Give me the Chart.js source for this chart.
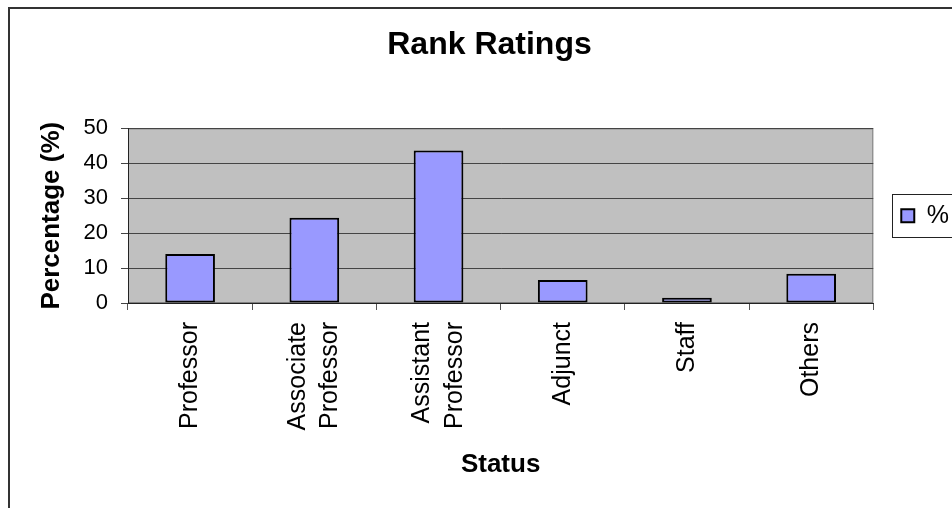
<!DOCTYPE html>
<html>
<head>
<meta charset="utf-8">
<title>Rank Ratings</title>
<script src="https://cdn.jsdelivr.net/npm/chart.js@4"></script>
<style>
  html, body { margin: 0; padding: 0; background: #fff; overflow: hidden; }
  .frame { position: absolute; left: 8px; top: 7px; width: 1000px; height: 600px; border: 2px solid #333; }
  #rankChart { position: absolute; left: 0; top: 0; }
</style>
</head>
<body>
<div class="frame"></div>
<canvas id="rankChart" width="952" height="508"></canvas>
<script>
  const statusLabels = ['Professor', ['Associate', 'Professor'], ['Assistant', 'Professor'], 'Adjunct', 'Staff', 'Others'];
  const percentValues = [14, 24.4, 43.7, 6.6, 1.5, 8.4];
  const seriesName = '%';
  const yMin = 0;
  const yMax = 50;
  const yStep = 10;

  Chart.defaults.font.family = 'Arial, "Liberation Sans", sans-serif';

  // grey plot area with thin frame, like the old Excel charts
  const plotBackground = {
    id: 'plotBackground',
    beforeDraw(chart) {
      const { ctx, chartArea: a } = chart;
      ctx.save();
      ctx.fillStyle = '#c0c0c0';
      ctx.fillRect(a.left, a.top, a.width, a.height);
      ctx.strokeStyle = '#808080';
      ctx.lineWidth = 1;
      ctx.strokeRect(a.left + 0.5, a.top + 0.5, a.width - 1, a.height - 1);
      ctx.restore();
    }
  };

  // two-line rotated labels: centre both lines on the category
  const centerMultiline = {
    id: 'centerMultiline',
    beforeDraw(chart) {
      chart.scales.x.getLabelItems().forEach((item) => {
        if (Array.isArray(item.label) && !item.shifted) {
          item.options.translation[0] -= (item.label.length - 1) * item.font.lineHeight / 2;
          item.shifted = true;
        }
      });
    }
  };

  // box round the legend
  const legendFrame = {
    id: 'legendFrame',
    afterDraw(chart) {
      const box = chart.legend && chart.legend.legendHitBoxes[0];
      if (!box) return;
      const ctx = chart.ctx;
      const midY = box.top + box.height / 2;
      ctx.save();
      ctx.strokeStyle = '#222';
      ctx.lineWidth = 1;
      ctx.strokeRect(Math.round(box.left - 9) + 0.5, Math.round(midY - 22) + 0.5, 120, 43);
      ctx.restore();
    }
  };

  new Chart(document.getElementById('rankChart'), {
    type: 'bar',
    data: {
      labels: statusLabels,
      datasets: [{
        label: seriesName,
        data: percentValues,
        backgroundColor: '#9999ff',
        borderColor: '#000',
        borderWidth: 2,
        borderSkipped: false,
        barPercentage: 0.4,
        categoryPercentage: 1
      }]
    },
    options: {
      responsive: false,
      animation: false,
      layout: { padding: { left: 20, right: -7, top: 0, bottom: 0 } },
      plugins: {
        title: {
          display: true,
          text: 'Rank Ratings',
          color: '#000',
          font: { size: 32, weight: 'bold' },
          padding: { top: 26, bottom: 64 }
        },
        legend: {
          position: 'right',
          fullSize: false,
          labels: { boxWidth: 13, boxHeight: 13, padding: 28, color: '#000', font: { size: 25 } }
        },
        tooltip: { enabled: false }
      },
      scales: {
        x: {
          grid: { offset: true, drawOnChartArea: false, tickLength: 7, tickColor: '#555' },
          border: { color: '#222', width: 1 },
          ticks: { autoSkip: false, minRotation: 90, maxRotation: 90, padding: 12, color: '#000', font: { size: 25, lineHeight: 1.3 } },
          title: { display: true, text: 'Status', color: '#000', font: { size: 26, weight: 'bold' }, padding: { top: 0, bottom: 28 } },
          afterFit: (scale) => { scale.height = 205; }
        },
        y: {
          min: yMin,
          max: yMax,
          ticks: { stepSize: yStep, padding: 13, color: '#000', font: { size: 22 } },
          grid: { color: '#444', tickLength: 7 },
          border: { color: '#222', width: 1 },
          title: { display: true, text: 'Percentage (%)', color: '#000', font: { size: 26, weight: 'bold' }, padding: { top: 16 } },
          afterFit: (scale) => { scale.width = 108; }
        }
      }
    },
    plugins: [plotBackground, centerMultiline, legendFrame]
  });
</script>
</body>
</html>
